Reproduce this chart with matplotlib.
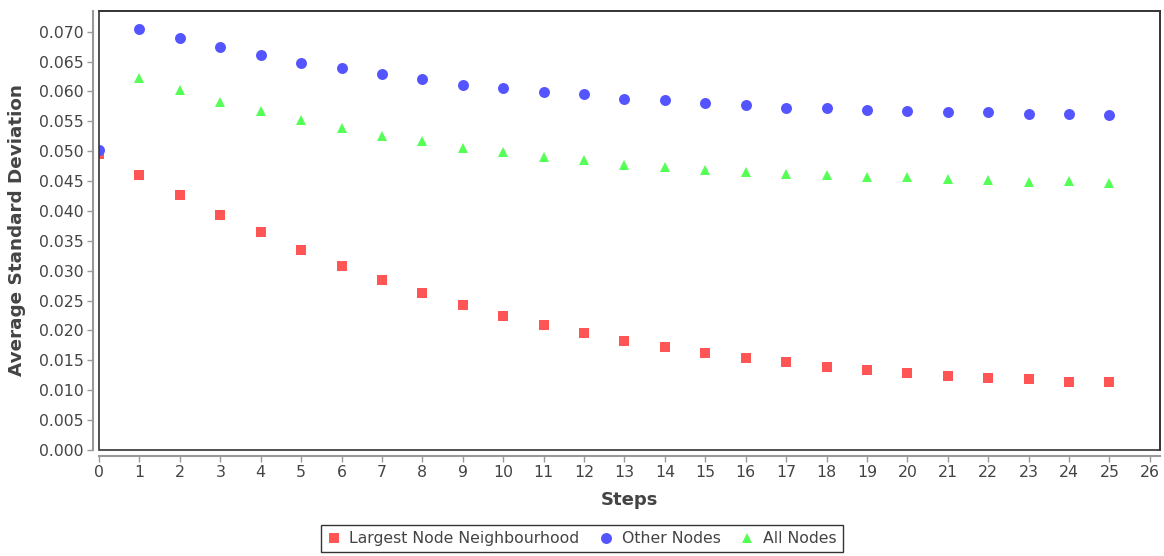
import matplotlib
matplotlib.use("Agg")
import matplotlib.pyplot as plt
from matplotlib.patches import Rectangle
from matplotlib.ticker import MultipleLocator, FormatStrFormatter

steps = list(range(26))

largest_node_neighbourhood = [
    0.0496, 0.0460, 0.0426, 0.0394, 0.0364, 0.0335, 0.0308, 0.0285,
    0.0263, 0.0243, 0.0225, 0.0210, 0.0195, 0.0182, 0.0172, 0.0163,
    0.0154, 0.0147, 0.0139, 0.0134, 0.0129, 0.0124, 0.0121, 0.0118,
    0.0114, 0.0113,
]
other_nodes = [
    0.0502, 0.0704, 0.0689, 0.0674, 0.0661, 0.0648, 0.0639, 0.0629,
    0.0621, 0.0611, 0.0606, 0.0599, 0.0595, 0.0588, 0.0586, 0.0580,
    0.0578, 0.0573, 0.0572, 0.0569, 0.0568, 0.0565, 0.0566, 0.0562,
    0.0563, 0.0560,
]
all_nodes = [
    None, 0.0623, 0.0603, 0.0583, 0.0568, 0.0552, 0.0539, 0.0526,
    0.0517, 0.0505, 0.0499, 0.0491, 0.0485, 0.0477, 0.0474, 0.0469,
    0.0466, 0.0462, 0.0460, 0.0457, 0.0456, 0.0453, 0.0452, 0.0449,
    0.0450, 0.0447,
]

series = [
    ("Largest Node Neighbourhood", largest_node_neighbourhood, "#FF5555", "s", 7.2),
    ("Other Nodes", other_nodes, "#5555FF", "o", 7.9),
    ("All Nodes", all_nodes, "#55FF55", "^", 7.8),
]

plt.rcParams["font.family"] = ["DejaVu Sans"]

fig = plt.figure(figsize=(11.64, 5.56), dpi=100)
ax = fig.add_axes([99 / 1164, 1 - 450 / 556, (1160 - 99) / 1164, (450 - 11) / 556])

handles = []
for label, values, color, marker, ms in series:
    xs = [s for s, v in zip(steps, values) if v is not None]
    ys = [v for v in values if v is not None]
    h, = ax.plot(xs, ys, linestyle="none", marker=marker, markersize=ms,
                 color=color, markeredgewidth=0, label=label, clip_on=True, zorder=3)
    handles.append(h)

ax.set_xlim(0, 26.25)
ax.set_ylim(0, 0.07346)
ax.xaxis.set_major_locator(MultipleLocator(1))
ax.yaxis.set_major_locator(MultipleLocator(0.005))
ax.yaxis.set_major_formatter(FormatStrFormatter("%.3f"))

# Plot frame in dark grey, axis lines offset outward in light grey
for side in ("top", "right"):
    ax.spines[side].set_color("#333333")
    ax.spines[side].set_linewidth(1.2)
for side in ("left", "bottom"):
    ax.spines[side].set_position(("outward", 4))
    ax.spines[side].set_color("#999999")
    ax.spines[side].set_linewidth(1.5)
ax.add_patch(Rectangle((0, 0), 1, 1, transform=ax.transAxes, fill=False,
                       edgecolor="#333333", linewidth=1.2, clip_on=False, zorder=4))

ax.tick_params(axis="both", direction="out", length=4, width=1, color="#999999",
               labelcolor="#444444", labelsize=11.3, pad=3)

ax.set_xlabel("Steps", fontsize=13, fontweight="bold", color="#444444", labelpad=8)
ax.set_ylabel("Average Standard Deviation", fontsize=13.2, fontweight="bold",
              color="#444444", labelpad=9)

leg = fig.legend(handles=handles, loc="upper center", ncol=3,
                 bbox_to_anchor=(582 / 1164, 1 - 517 / 556),
                 frameon=True, fancybox=False, fontsize=11.3, handlelength=0.8,
                 handletextpad=0.6, columnspacing=1.3, borderpad=0.4,
                 labelcolor="#444444")
leg.get_frame().set_edgecolor("#000000")
leg.get_frame().set_linewidth(1.0)

fig.savefig("out.png", dpi=100, facecolor="white")
